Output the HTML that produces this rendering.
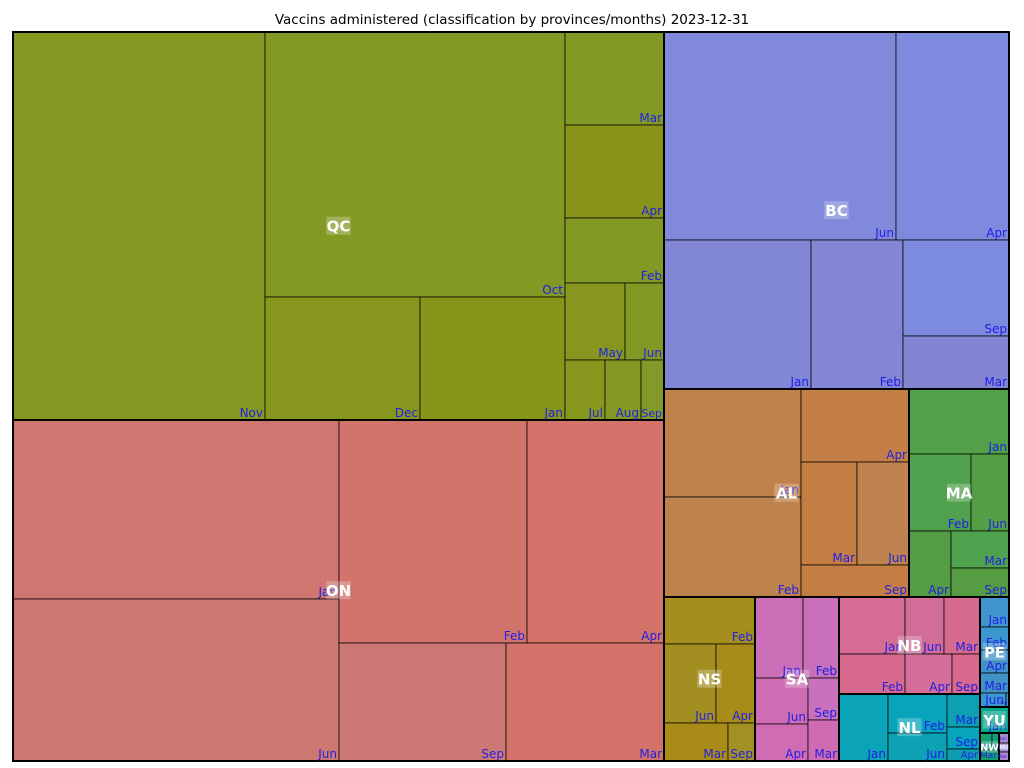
<!DOCTYPE html>
<html><head><meta charset="utf-8"><style>
html,body{margin:0;padding:0;background:#fff;}
svg{display:block;font-family:"DejaVu Sans","Liberation Sans",sans-serif;}
</style></head><body>
<svg id="chart" width="1024" height="768" viewBox="0 0 1024 768" xmlns="http://www.w3.org/2000/svg">
<text x="512" y="24" text-anchor="middle" font-size="13.5" fill="#000">Vaccins administered (classification by provinces/months)  2023-12-31</text>
<g id="leaves"></g><g id="pborders"></g><g id="mlabels"></g><g id="plabels"></g>
</svg>
<script>
const provinces = ['QC','ON','BC','AL','MA','NS','SA','NB','NL','PE','YU','NW','NU'];
const qcMonths = ['Nov','Oct','Dec','Jan','Mar','Apr','Feb','May','Jun','Jul','Aug','Sep'];
const qcValues = [97776,79500,19065,17835,9207,9207,6435,4620,3003,2400,2160,1380];
const onMonths = ['Jan','Jun','Feb','Apr','Sep','Mar'];
const onValues = [58354,52812,41924,30551,19706,18644];
const bcMonths = ['Jun','Apr','Jan','Feb','Sep','Mar'];
const bcValues = [48256,23504,21903,13708,10176,5618];
const alMonths = ['Jan','Feb','Apr','Mar','Jun','Sep'];
const alValues = [14796,13700,7884,5768,5356,3456];
const maMonths = ['Jan','Feb','Jun','Apr','Mar','Sep'];
const maValues = [6500,4774,2926,2772,2146,1682];
const nsMonths = ['Feb','Jun','Apr','Mar','Sep'];
const nsValues = [4277,4108,3081,2432,1026];
const saMonths = ['Jan','Feb','Jun','Apr','Sep','Mar'];
const saValues = [3888,2916,2438,1961,1302,1271];
const nbMonths = ['Jan','Jun','Mar','Feb','Apr','Sep'];
const nbValues = [3762,2223,2052,2640,1880,1120];
const nlMonths = ['Jan','Feb','Jun','Mar','Sep','Apr'];
const nlValues = [3283,2301,1652,1089,726,396];
const peMonths = ['Jan','Feb','Apr','Mar','Jun','Sep'];
const peValues = [870,667,667,580,364,42];
const yuMonths = ['Jan'];
const yuValues = [754];
const nwMonths = ['Jan','Feb','Mar'];
const nwValues = [204,119,209];
const nuMonths = ['Jan','Feb','Mar'];
const nuValues = [100,90,90];

const monthData = {QC:[qcMonths,qcValues],ON:[onMonths,onValues],BC:[bcMonths,bcValues],AL:[alMonths,alValues],MA:[maMonths,maValues],NS:[nsMonths,nsValues],SA:[saMonths,saValues],NB:[nbMonths,nbValues],NL:[nlMonths,nlValues],PE:[peMonths,peValues],YU:[yuMonths,yuValues],NW:[nwMonths,nwValues],NU:[nuMonths,nuValues]};
const shapes = {
 QC:['h',[0,['h',[['v',[1,['h',[2,3]]]],['v',[4,5,6,['h',[7,8]],['h',[9,10,11]]]]]]]],
 ON:['h',[['v',[0,1]],['v',[['h',[2,3]],['h',[4,5]]]]]],
 BC:['v',[['h',[0,1]],['h',[2,3,['v',[4,5]]]]]],
 AL:['h',[['v',[0,1]],['v',[2,['h',[3,4]],5]]]],
 MA:['v',[0,['h',[1,2]],['h',[3,['v',[4,5]]]]]],
 NS:['v',[0,['h',[1,2]],['h',[3,4]]]],
 SA:['v',[['h',[0,1]],['h',[['v',[2,3]],['v',[4,5]]]]]],
 NB:['v',[['h',[0,1,2]],['h',[3,4,5]]]],
 NL:['h',[0,['v',[1,2]],['v',[3,4,5]]]],
 PE:['v',[0,1,2,3,['h',[4,5]]]],
 YU:['v',[0]],
 NW:['v',[['h',[0,1]],2]],
 NU:['v',[0,1,2]]
};
const topShape = ['h',[['v',['QC','ON']],['v',['BC',['h',['AL','MA']],['h',['NS','SA',['v',['NB','NL']],['v',['PE','YU',['h',['NW','NU']]]]]]]]]];
const baseColors = {QC:[133,152,33],ON:[208,118,112],BC:[128,137,218],AL:[193,129,74],MA:[82,160,74],NS:[166,142,30],SA:[204,111,184],NB:[213,108,148],NL:[10,163,184],PE:[63,149,204],YU:[10,168,138],NW:[18,160,112],NU:[169,138,208]};
const jitter = [[0,0,0],[-3,1,3],[2,-2,-5],[3,-3,-6],[-3,2,4],[3,-4,-8],[-2,1,4],[1,-2,-2],[-2,1,4],[2,-1,-3],[-1,0,2],[-4,2,7]];

const ns='http://www.w3.org/2000/svg';
function mk(tag,attrs,parent){const e=document.createElementNS(ns,tag);for(const k in attrs)e.setAttribute(k,attrs[k]);parent.appendChild(e);return e;}

function sumNode(node,vals){
  if(typeof node==='number') return vals[node];
  if(typeof node==='string'){const v=monthData[node][1];return v.reduce((a,b)=>a+b,0);}
  return node[1].reduce((a,k)=>a+sumNode(k,vals),0);
}
function split(node,x,y,w,h,vals,cb){
  if(typeof node!=='object'){cb(node,x,y,w,h);return;}
  const total=sumNode(node,vals);let off=0;
  node[1].forEach(k=>{const f=sumNode(k,vals)/total;
    if(node[0]==='h'){split(k,x+off*w,y,f*w,h,vals,cb);}else{split(k,x,y+off*h,w,f*h,vals,cb);}
    off+=f;});
}
const X0=13,Y0=32,W=996,H=729;
const gL=document.getElementById('leaves'),gB=document.getElementById('pborders'),gM=document.getElementById('mlabels'),gP=document.getElementById('plabels');
split(topShape,X0,Y0,W,H,null,(prov,px,py,pw,ph)=>{
  const [months,vals]=monthData[prov];
  const bc=baseColors[prov];
  split(shapes[prov],px,py,pw,ph,vals,(i,x,y,w,h)=>{
    const j=jitter[i%jitter.length];
    const c=`rgb(${bc[0]+j[0]},${bc[1]+j[1]},${bc[2]+j[2]})`;
    const r=mk('rect',{x:x,y:y,width:w,height:h,fill:c,stroke:'rgba(0,0,0,0.75)','stroke-width':1},gL);
    
    
    const fs=Math.max(4,Math.min(12,h-2,w/2.1));
    const t=mk('text',{x:x+w-2,y:y+h-3,'text-anchor':'end','font-size':fs,fill:'#1f1fe6'},gM);
    t.textContent=months[i];
    
    
  });
  const b=mk('rect',{x:px,y:py,width:pw,height:ph,fill:'none',stroke:'#000','stroke-width':2},gB);
  
  
  const fs=Math.max(5,Math.min(15,pw*0.5,ph*0.6));
  const cx=px+pw/2,cy=py+ph/2;
  const tw=fs*0.74*prov.length;
  const bg=mk('rect',{x:cx-tw/2-1,y:cy-fs*0.62,width:tw+2,height:fs*1.2,fill:'rgba(255,255,255,0.25)'},gP);
  
  
  const t=mk('text',{x:cx,y:cy+fs*0.37,'text-anchor':'middle','font-size':fs,'font-weight':'bold',fill:'#fff'},gP);
  t.textContent=prov;
  
  
});
</script>
</body></html>
